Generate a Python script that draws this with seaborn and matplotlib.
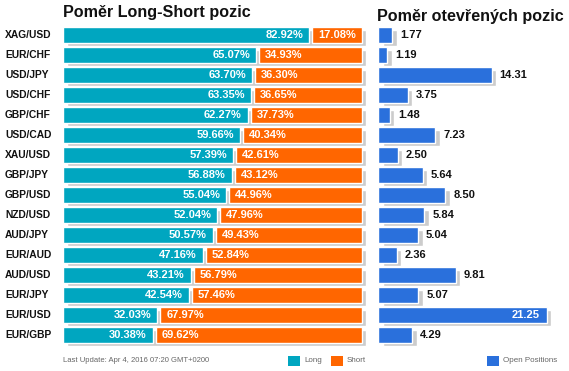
import numpy as np
import pandas as pd
import seaborn as sns
import matplotlib.pyplot as plt
from matplotlib.patches import Rectangle
from matplotlib.transforms import blended_transform_factory

pairs = ['XAG/USD', 'EUR/CHF', 'USD/JPY', 'USD/CHF', 'GBP/CHF', 'USD/CAD', 'XAU/USD', 'GBP/JPY',
         'GBP/USD', 'NZD/USD', 'AUD/JPY', 'EUR/AUD', 'AUD/USD', 'EUR/JPY', 'EUR/USD', 'EUR/GBP']
long_pct = [82.92, 65.07, 63.70, 63.35, 62.27, 59.66, 57.39, 56.88,
            55.04, 52.04, 50.57, 47.16, 43.21, 42.54, 32.03, 30.38]
short_pct = [17.08, 34.93, 36.30, 36.65, 37.73, 40.34, 42.61, 43.12,
             44.96, 47.96, 49.43, 52.84, 56.79, 57.46, 67.97, 69.62]
open_pos = [1.77, 1.19, 14.31, 3.75, 1.48, 7.23, 2.50, 5.64,
            8.50, 5.84, 5.04, 2.36, 9.81, 5.07, 21.25, 4.29]

df = pd.DataFrame({'pair': pairs, 'long': long_pct, 'short': short_pct, 'open': open_pos})

TEAL = '#00a6c0'
ORANGE = '#ff6600'
BLUE = '#2a70dc'
SHADOW = '#cccccc'
GAP = 0.5

sns.set_theme(style='white')
plt.rcParams['font.family'] = ['Liberation Sans', 'DejaVu Sans']

W, H = 569, 371
fig = plt.figure(figsize=(W / 100, H / 100), dpi=100)

def px_axes(x0, y_top, w, h):
    return fig.add_axes([x0 / W, 1 - (y_top + h) / H, w / W, h / H])

n = len(pairs)
ypos = np.arange(n)
row_px = 20
ax_h = (n + 0.1) * row_px

# left panel: long / short ratio
ax1 = px_axes(63.3, 25.3, 310, ax_h)
px1 = 298.7 / 100
sns.barplot(data=df.assign(lw=df['long'] - GAP), x='lw', y='pair', color=TEAL,
            saturation=1, width=0.8, ax=ax1, zorder=3)
ax1.barh(ypos + 3 / row_px, df['long'] + df['short'], left=4 / px1, height=0.8,
         color=SHADOW, zorder=1)
ax1.barh(ypos, df['short'] - GAP, left=df['long'] + GAP, height=0.8, color=ORANGE, zorder=3)
ax1.set_xlim(0, 310 / px1)
ax1.set_ylim(n - 0.4, -0.5)

for i in range(n):
    ax1.annotate(f"{long_pct[i]:.2f}%", (long_pct[i] - GAP, i), xytext=(-6, 0),
                 textcoords='offset pixels', ha='right', va='center',
                 color='white', fontsize=8, fontweight='bold', zorder=5)
    ax1.annotate(f"{short_pct[i]:.2f}%", (long_pct[i] + GAP, i), xytext=(6, 0),
                 textcoords='offset pixels', ha='left', va='center',
                 color='white', fontsize=8, fontweight='bold', zorder=5)

trans = blended_transform_factory(fig.transFigure, ax1.transData)
for i, p in enumerate(pairs):
    fig.text(5 / W, i, p, transform=trans, ha='left', va='center',
             fontsize=7.4, fontweight='bold', color='#111111')

# right panel: open positions
ax2 = px_axes(378, 25.3, 185, ax_h)
px2 = 7.94
sns.barplot(data=df, x='open', y='pair', color=BLUE, saturation=1, width=0.8, ax=ax2, zorder=3)
ax2.barh(ypos + 3 / row_px, df['open'], left=4.5 / px2, height=0.8, color=SHADOW, zorder=1)
ax2.set_xlim(0, 185 / px2)
ax2.set_ylim(n - 0.4, -0.5)
for i, v in enumerate(open_pos):
    if v * px2 > 140:
        ax2.annotate(f"{v:.2f}", (v, i), xytext=(-7, 0), textcoords='offset pixels',
                     ha='right', va='center', color='white', fontsize=8,
                     fontweight='bold', zorder=5)
    else:
        ax2.annotate(f"{v:.2f}", (v, i), xytext=(8, 0), textcoords='offset pixels',
                     ha='left', va='center', color='#111111', fontsize=8,
                     fontweight='bold', zorder=5)

for ax in (ax1, ax2):
    ax.set_axis_off()

# titles
fig.text(63 / W, 1 - 13 / H, 'Poměr Long-Short pozic', ha='left', va='center',
         fontsize=11.6, fontweight='bold', color='#111111')
fig.text(377 / W, 1 - 16 / H, 'Poměr otevřených pozic', ha='left', va='center',
         fontsize=11.6, fontweight='bold', color='#111111')

# footer
fig.text(63 / W, 1 - 360 / H, 'Last Update: Apr 4, 2016 07:20 GMT+0200', ha='left',
         va='center', fontsize=5.5, color='#666666')

def legend_item(x, label, color):
    fig.add_artist(Rectangle((x / W, 1 - 365.5 / H), 12 / W, 10 / H,
                             transform=fig.transFigure, color=color, lw=0))
    fig.text((x + 16) / W, 1 - 360.5 / H, label, ha='left', va='center',
             fontsize=5.8, color='#666666')

legend_item(288, 'Long', TEAL)
legend_item(331, 'Short', ORANGE)
legend_item(487, 'Open Positions', BLUE)

plt.savefig('out.png', dpi=100)
